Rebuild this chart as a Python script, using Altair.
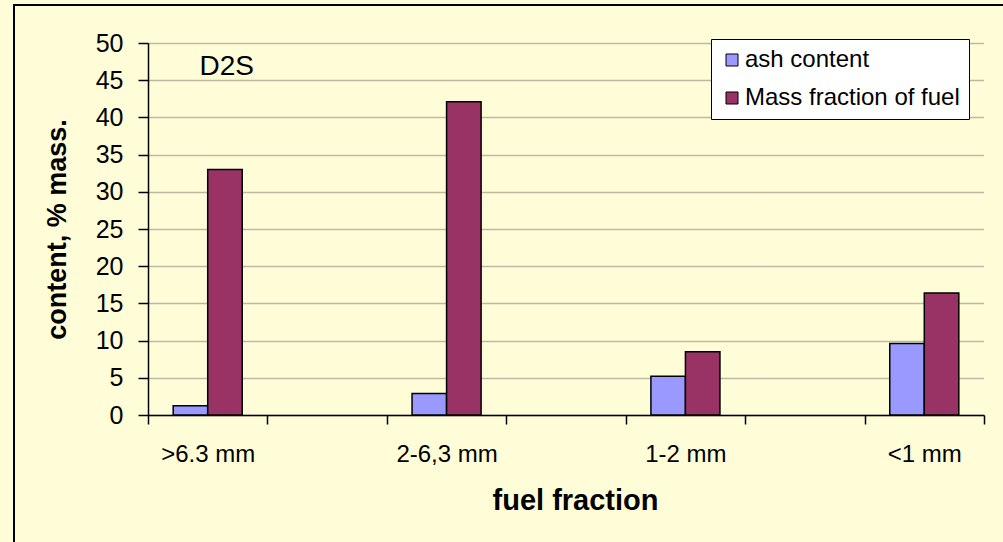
import altair as alt
import pandas as pd

categories = [">6.3 mm", "2-6,3 mm", "1-2 mm", "<1 mm"]
x_domain = [">6.3 mm", " ", "2-6,3 mm", "  ", "1-2 mm", "   ", "<1 mm"]
series = ["ash content", "Mass fraction of fuel"]
ash = [1.25, 2.9, 5.2, 9.6]
mass = [33.0, 42.1, 8.5, 16.4]
colors = ["#9999FF", "#993366"]
y_ticks = list(range(0, 51, 5))

rows = []
for c, a, m in zip(categories, ash, mass):
    rows.append({"fraction": c, "series": series[0], "value": a})
    rows.append({"fraction": c, "series": series[1], "value": m})
df = pd.DataFrame(rows)

FONT = "Liberation Sans"
W, H = 836, 372
LEFT, TOP = 148, 43

x_scale = alt.Scale(domain=x_domain, paddingInner=0, paddingOuter=0)
y_scale = alt.Scale(domain=[0, 50], nice=False)
x_axis = alt.Axis(title="fuel fraction", labelAngle=0, tickBand="extent",
                  tickSize=9, labelPadding=18, labelFontSize=24, labelFont=FONT,
                  labelColor="black", domainColor="black", tickColor="black",
                  domainWidth=1.5, tickWidth=1.5, grid=False,
                  titleFont=FONT, titleFontSize=29, titleFontWeight="bold",
                  titleColor="black", titleY=71, titleX=427, titleBaseline="top")
y_axis = alt.Axis(title="content, % mass.", values=y_ticks, tickSize=10,
                  labelPadding=15, labelOverlap=False,
                  labelFontSize=25, labelFont=FONT, labelColor="black",
                  domainColor="black", tickColor="black", domainWidth=1.5, tickWidth=1.5,
                  grid=True, gridColor="#77776a", gridDash=[1, 1], gridWidth=1.3,
                  titleFont=FONT, titleFontSize=27, titleFontWeight="bold",
                  titleColor="black", titleX=-91, titleY=186, titleAngle=270,
                  titleBaseline="middle", titleAlign="center")

bars = alt.Chart(df).mark_bar(stroke="black", strokeWidth=1.5).encode(
    x=alt.X("fraction:N", scale=x_scale, axis=x_axis),
    xOffset=alt.XOffset("series:N", scale=alt.Scale(domain=series, paddingInner=0, paddingOuter=0.73)),
    y=alt.Y("value:Q", scale=y_scale, axis=y_axis),
    color=alt.Color("series:N", scale=alt.Scale(domain=series, range=colors),
                    legend=alt.Legend(title=None, orient="none", legendX=563, legendY=-4,
                                      fillColor="white", strokeColor="black", padding=9,
                                      symbolType="square", symbolSize=144,
                                      symbolStrokeColor="black", symbolStrokeWidth=1,
                                      labelFont=FONT, labelFontSize=24, labelColor="black",
                                      labelLimit=0, rowPadding=14, labelOffset=1)),
)

label_df = pd.DataFrame({"fraction": [">6.3 mm"], "value": [46.8], "text": ["D2S"]})
label = alt.Chart(label_df).mark_text(font=FONT, fontSize=28, color="black", dx=19).encode(
    x=alt.X("fraction:N", scale=x_scale, axis=x_axis),
    y=alt.Y("value:Q", scale=y_scale, axis=y_axis),
    text="text:N")

border = alt.Chart(pd.DataFrame({"k": [0]})).mark_rect(fill=None, stroke="black", strokeWidth=2).encode(
    x=alt.value(14 - LEFT), x2=alt.value(1003 - LEFT + 20),
    y=alt.value(5 - TOP), y2=alt.value(542 - TOP + 20))

chart = alt.layer(border, bars, label).properties(
    width=W, height=H,
    autosize=alt.AutoSizeParams(type="none"),
    padding={"left": LEFT, "top": TOP, "right": 1003 - LEFT - W, "bottom": 542 - TOP - H},
    background="#FFFDD8",
).configure_view(stroke=None)

chart.save("out.html", embed_options={"renderer": "svg", "actions": False})
